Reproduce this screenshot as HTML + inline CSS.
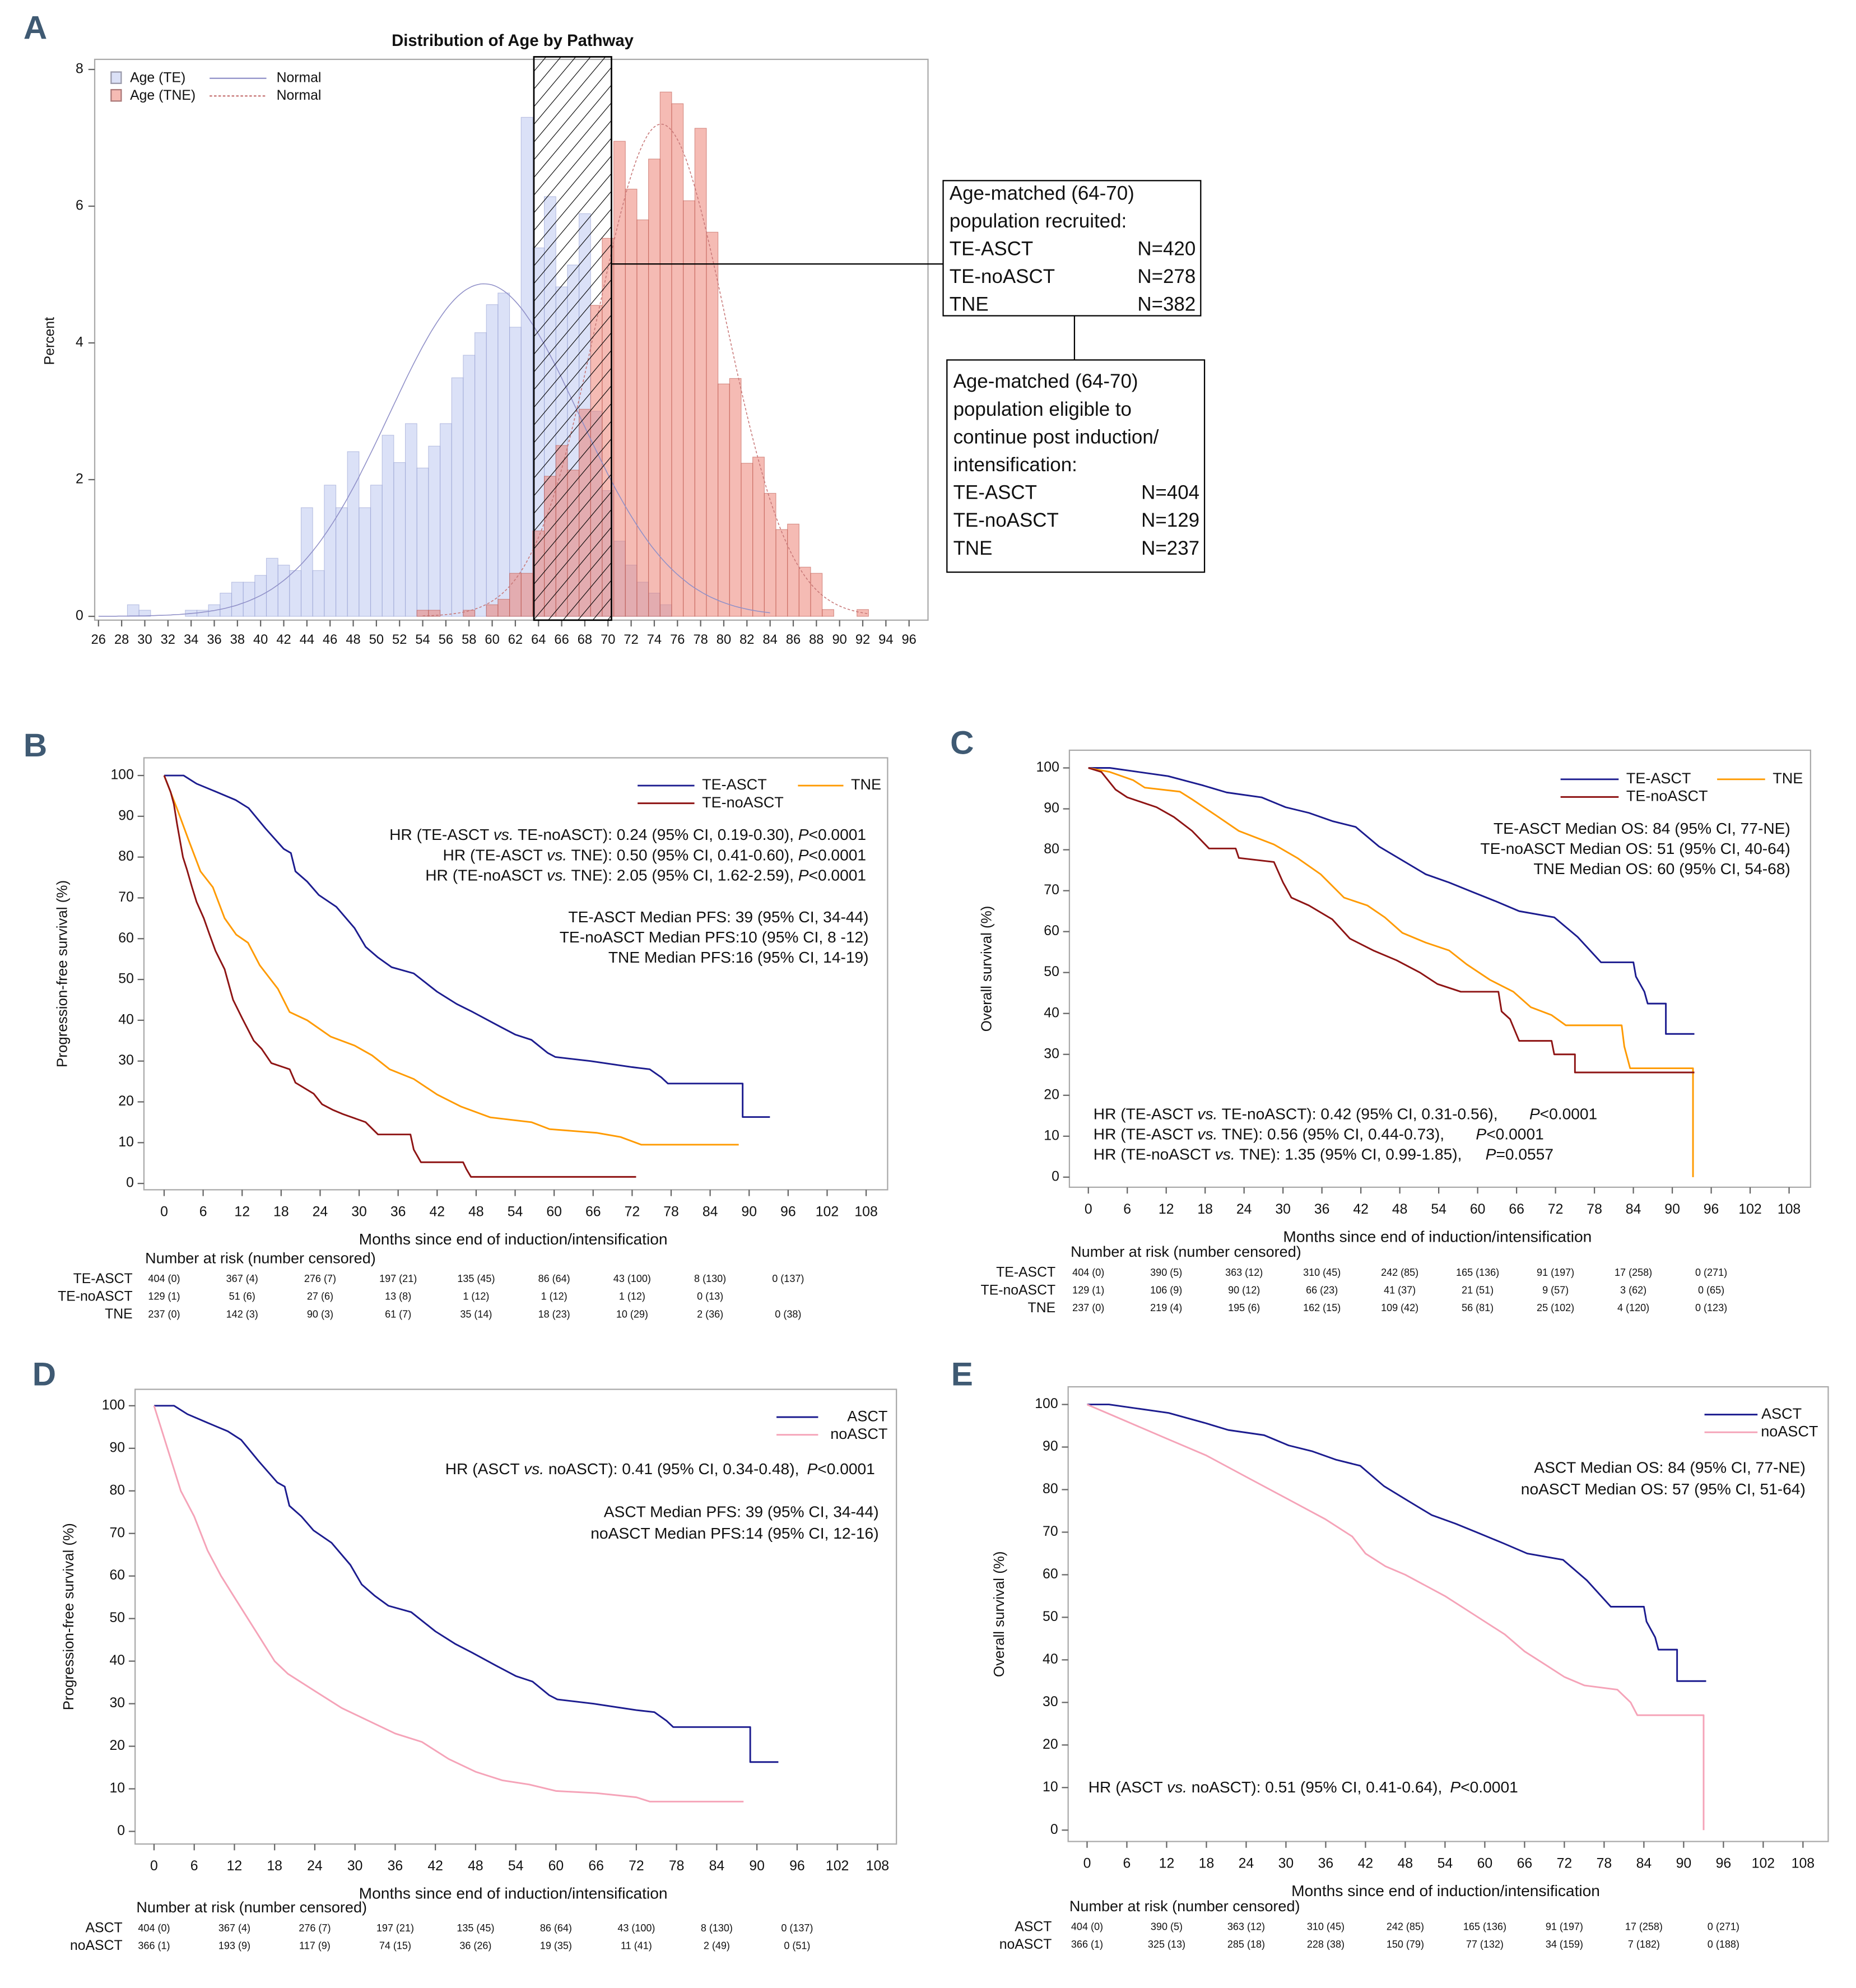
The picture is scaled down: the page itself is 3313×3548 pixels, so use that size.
<!DOCTYPE html>
<html><head><meta charset="utf-8"><title>Age distribution and survival by pathway</title>
<style>
html,body{margin:0;padding:0;background:#fff;}
svg{display:block;}
text{font-family:"Liberation Sans Narrow","Liberation Sans",sans-serif;fill:#111;}
.box text{font-family:"Liberation Sans",sans-serif;}
</style></head>
<body>
<svg id="fig" xmlns="http://www.w3.org/2000/svg" width="3313" height="3548" viewBox="0 0 1470 1574" preserveAspectRatio="none"></svg>
<script>
// ---------- Panel A data ----------
const ageTE = [29,30,34,35,36,37,38,39,40,41,42,43,44,45,46,47,48,49,50,51,52,53,54,55,56,57,58,59,60,61,62,63,64,65,66,67,68,69,70,71,72,73,74,75];
const pctTE = [0.17,0.09,0.09,0.09,0.17,0.34,0.5,0.5,0.6,0.85,0.75,0.67,1.59,0.67,1.92,1.59,2.41,1.59,1.92,2.65,2.25,2.82,2.17,2.49,2.82,3.49,3.82,4.15,4.56,4.73,4.23,7.3,5.39,6.14,4.82,5.14,5.89,3.0,1.84,1.1,0.75,0.5,0.34,0.17];
const ageTNE = [54,55,58,60,61,62,63,64,65,66,67,68,69,70,71,72,73,74,75,76,77,78,79,80,81,82,83,84,85,86,87,88,89,92];
const pctTNE = [0.09,0.09,0.09,0.17,0.25,0.63,0.63,1.25,2.05,2.5,2.14,3.03,4.55,5.53,6.95,6.25,5.8,6.69,7.67,7.5,6.08,7.14,5.62,3.4,3.48,2.24,2.33,1.8,1.27,1.35,0.72,0.63,0.1,0.1];
const normalTE = [59.3, 8.2, 26, 84];   // mean, sd, from, to
const normalTNE = [74.6, 5.54, 54, 92.5];
const ageTicks = [26,28,30,32,34,36,38,40,42,44,46,48,50,52,54,56,58,60,62,64,66,68,70,72,74,76,78,80,82,84,86,88,90,92,94,96];
const pctTicks = [0,2,4,6,8];

// ---------- KM data ----------
const pfsTeAsctT = [0,3,5,8,11,13,15.6,18.4,19.5,20.2,22,23.8,26.5,29.3,31,32.9,35,38.4,42,45,47.5,51,54,56.5,59,60.2,65.6,72,74.7,76.5,77.5,89,89,93.2];
const pfsTeAsctS = [100,100,98,96,94,92,87,82,81,76.5,74,70.7,67.8,62.6,58,55.4,53,51.5,47,44,42,39,36.5,35.2,32,31,30,28.5,28,26,24.5,24.5,16.3,16.3];
const pfsTeNoT = [0,1,1.5,2,2.9,3.5,4.3,5,6.1,7,7.9,9.3,10.6,12,13.8,15,16.5,19.3,20.2,23,24.3,26,27.5,31,32.9,37.9,38.4,39.5,46,46.5,47.2,72.6];
const pfsTeNoS = [100,96,93,88,80,77,72.6,69,65,61,57,52.5,45,40.5,35,33,29.5,28,24.7,22,19.4,18,17,15,12,12,8.3,5.2,5.2,3.5,1.6,1.6];
const pfsTneT = [0,2,3.8,5.6,7.5,9.3,11.1,12.9,14.7,17.5,19.3,22,25.6,29.3,32,34.7,38.4,42,45.6,50.2,56.5,59.3,66.5,70.2,73.4,88.4];
const pfsTneS = [100,91.8,84,76.5,72.6,65,61,59,53.5,47.7,42,40,36,33.8,31.4,28,25.6,21.8,18.9,16.2,15,13.3,12.4,11.4,9.5,9.5];
const osTeAsctT = [0,3.3,12.3,17.7,21.3,26.7,30.4,34,37.6,41.2,44.8,48.4,52,55.6,59.2,62.8,66.4,71.8,75.4,79,84,84.4,85.7,86.2,89,89,93.4];
const osTeAsctS = [100,100,98,95.7,94,92.8,90.4,89,87,85.6,80.8,77.4,74,72,69.7,67.4,65,63.5,58.7,52.5,52.5,49,45.3,42.4,42.4,35,35];
const osTeNoT = [0,2,4.2,6,10.5,13.2,16,18.6,22.7,23.2,28.6,30,31.3,34,37.6,40.3,43.9,47.5,51.1,53.8,57.4,63.2,63.7,65,66.4,71.4,71.8,75,75,93.4];
const osTeNoS = [100,99,94.7,92.8,90.4,88,84.6,80.3,80.3,78,77,72,68.3,66.4,63,58.3,55.4,53,50,47.2,45.3,45.3,40.5,38.6,33.3,33.3,30,30,25.6,25.6];
const osTneT = [0,3.3,6.9,8.7,14.1,16,19.6,23.2,28.6,32.2,35.8,39.4,43,45.7,48.4,52,55.6,58.3,61.9,65.5,68.2,71.4,73.6,82.2,82.6,83.5,93.2,93.2];
const osTneS = [100,99,97,95.2,94.2,92.3,88.5,84.6,81.3,78,74,68.3,66.4,63.5,59.7,57.3,55.4,52,48.2,45.3,41.5,39.6,37.1,37.1,31.9,26.6,26.6,0];
const pfsNoT = [0,1,2,3,4,6,8,10,12,14,16,18,20,24,28,32,36,40,44,48,52,56,60,66,72,74,88];
const pfsNoS = [100,95,90,85,80,74,66,60,55,50,45,40,37,33,29,26,23,21,17,14,12,11,9.5,9,8,7,7];
const osNoT = [0,6,12,18,24,30,36,40,42,45,48,54,57,60,63,66,69,72,75,80,82,83,93,93];
const osNoS = [100,96,92,88,83,78,73,69,65,62,60,55,52,49,46,42,39,36,34,33,30,27,27,0];
const monthTicks = [0,6,12,18,24,30,36,42,48,54,60,66,72,78,84,90,96,102,108];
const survTicks = [0,10,20,30,40,50,60,70,80,90,100];
const riskB1 = ["404 (0)","367 (4)","276 (7)","197 (21)","135 (45)","86 (64)","43 (100)","8 (130)","0 (137)"];
const riskB2 = ["129 (1)","51 (6)","27 (6)","13 (8)","1 (12)","1 (12)","1 (12)","0 (13)"];
const riskB3 = ["237 (0)","142 (3)","90 (3)","61 (7)","35 (14)","18 (23)","10 (29)","2 (36)","0 (38)"];
const riskC1 = ["404 (0)","390 (5)","363 (12)","310 (45)","242 (85)","165 (136)","91 (197)","17 (258)","0 (271)"];
const riskC2 = ["129 (1)","106 (9)","90 (12)","66 (23)","41 (37)","21 (51)","9 (57)","3 (62)","0 (65)"];
const riskC3 = ["237 (0)","219 (4)","195 (6)","162 (15)","109 (42)","56 (81)","25 (102)","4 (120)","0 (123)"];
const riskD1 = ["404 (0)","367 (4)","276 (7)","197 (21)","135 (45)","86 (64)","43 (100)","8 (130)","0 (137)"];
const riskD2 = ["366 (1)","193 (9)","117 (9)","74 (15)","36 (26)","19 (35)","11 (41)","2 (49)","0 (51)"];
const riskE1 = ["404 (0)","390 (5)","363 (12)","310 (45)","242 (85)","165 (136)","91 (197)","17 (258)","0 (271)"];
const riskE2 = ["366 (1)","325 (13)","285 (18)","228 (38)","150 (79)","77 (132)","34 (159)","7 (182)","0 (188)"];

const NS='http://www.w3.org/2000/svg';
const svg=document.getElementById('fig');
function mk(tag,attrs,parent){const e=document.createElementNS(NS,tag);for(const k in attrs)e.setAttribute(k,attrs[k]);(parent||svg).appendChild(e);return e;}
function txt(s,x,y,size,anchor,parent,extra){const e=mk('text',Object.assign({x:x,y:y,'font-size':size,'text-anchor':anchor||'start','dominant-baseline':'middle'},extra||{}),parent);e.textContent=s;return e;}

const defs=mk('defs',{});
const pat=mk('pattern',{id:'hatch',width:9,height:9,patternUnits:'userSpaceOnUse',patternTransform:'rotate(40)'},defs);
mk('line',{x1:0,y1:0,x2:0,y2:9,stroke:'#000','stroke-width':1},pat);

// ================= PANEL A =================
const gA=mk('g',{});


const lA=txt('A',28,24,26,'middle',gA,{'font-weight':'bold',style:'fill:#3f5a73'});


const tA=txt('Distribution of Age by Pathway',406,33,13,'middle',gA,{'font-weight':'bold'});


const ax=a=>78+(a-26)*(720-78)/70;
const ay=p=>488-p*(488-55)/8;
mk('rect',{x:75,y:47,width:660,height:444,fill:'none',stroke:'#aaa','stroke-width':1},gA);
pctTicks.forEach(t=>{mk('line',{x1:70,x2:75,y1:ay(t),y2:ay(t),stroke:'#666'},gA);const e=txt(String(t),66,ay(t),11,'end',gA);});
ageTicks.forEach(t=>{mk('line',{x1:ax(t),x2:ax(t),y1:491,y2:496,stroke:'#666'},gA);const e=txt(String(t),ax(t),507,10.5,'middle',gA);});
const yA=txt('Percent',40,270,11,'middle',gA,{transform:'rotate(-90 40 270)',style:'font-family:"Liberation Sans",sans-serif'});


ageTE.forEach((a,i)=>{const r=mk('rect',{x:ax(a-0.5),y:ay(pctTE[i]),width:ax(a+0.5)-ax(a-0.5),height:ay(0)-ay(pctTE[i]),fill:'rgba(190,200,240,0.55)',stroke:'rgba(150,160,210,0.6)','stroke-width':0.5},gA);});
ageTNE.forEach((a,i)=>{const r=mk('rect',{x:ax(a-0.5),y:ay(pctTNE[i]),width:ax(a+0.5)-ax(a-0.5),height:ay(0)-ay(pctTNE[i]),fill:'rgba(235,120,105,0.5)',stroke:'rgba(190,90,80,0.6)','stroke-width':0.5},gA);});
function normPath(p){let d='';for(let a=p[2];a<=p[3];a+=0.25){const v=100/(p[1]*Math.sqrt(2*Math.PI))*Math.exp(-0.5*((a-p[0])/p[1])**2);d+=(d?'L':'M')+ax(a).toFixed(1)+' '+ay(v).toFixed(1);}return d;}
const nTE=mk('path',{d:normPath(normalTE),fill:'none',stroke:'#9090c8','stroke-width':0.7},gA);


const nTNE=mk('path',{d:normPath(normalTNE),fill:'none',stroke:'#c87878','stroke-width':0.7,'stroke-dasharray':'2,1.5'},gA);


const hb=mk('rect',{x:ax(63.6),y:45,width:ax(70.3)-ax(63.6),height:446,fill:'url(#hatch)',stroke:'#000','stroke-width':1.2},gA);


const lgA=mk('g',{},gA);


mk('rect',{x:88,y:57,width:8,height:9,fill:'rgba(190,200,240,0.55)',stroke:'#99a'},lgA);
txt('Age (TE)',103,62,11,'start',lgA);
mk('rect',{x:88,y:71,width:8,height:9,fill:'rgba(235,120,105,0.5)',stroke:'#a77'},lgA);
txt('Age (TNE)',103,76,11,'start',lgA);
mk('line',{x1:166,x2:211,y1:62,y2:62,stroke:'#9090c8'},lgA);
txt('Normal',219,62,11,'start',lgA);
mk('line',{x1:166,x2:211,y1:76,y2:76,stroke:'#c87878','stroke-dasharray':'2,1.5'},lgA);
txt('Normal',219,76,11,'start',lgA);
mk('line',{x1:484,x2:747,y1:209,y2:209,stroke:'#000','stroke-width':1},gA);
mk('line',{x1:851,x2:851,y1:250,y2:285,stroke:'#000','stroke-width':1},gA);
const b1=mk('g',{class:'box'},gA);


mk('rect',{x:747,y:143,width:204,height:107,fill:'#fff',stroke:'#000','stroke-width':1},b1);
[['Age-matched (64-70)',''],['population recruited:',''],['TE-ASCT','N=420'],['TE-noASCT','N=278'],['TNE','N=382']].forEach((r,i)=>{txt(r[0],752,154+i*22,15.5,'start',b1);if(r[1])txt(r[1],947,154+i*22,15.5,'end',b1);});
const b2=mk('g',{class:'box'},gA);


mk('rect',{x:750,y:285,width:204,height:168,fill:'#fff',stroke:'#000','stroke-width':1},b2);
[['Age-matched (64-70)',''],['population eligible to',''],['continue post induction/',''],['intensification:',''],['TE-ASCT','N=404'],['TE-noASCT','N=129'],['TNE','N=237']].forEach((r,i)=>{txt(r[0],755,303+i*22,15.5,'start',b2);if(r[1])txt(r[1],950,303+i*22,15.5,'end',b2);});

// ================= KM panels =================
function kmPanel(cfg){
  const g=mk('g',{});
  
  
  const L=txt(cfg.letter,cfg.lx,cfg.ly,26,'middle',g,{'font-weight':'bold',style:'fill:#3f5a73'});
  
  
  const X=m=>cfg.x0+m*(cfg.x108-cfg.x0)/108;
  const Y=s=>cfg.y0-s*(cfg.y0-cfg.y100)/100;
  mk('rect',{x:cfg.fx,y:cfg.fy,width:cfg.fw,height:cfg.fh,fill:'none',stroke:'#aaa','stroke-width':1},g);
  survTicks.forEach(t=>{mk('line',{x1:cfg.fx-5,x2:cfg.fx,y1:Y(t),y2:Y(t),stroke:'#666'},g);const e=txt(String(t),cfg.fx-8,Y(t),11,'end',g);});
  monthTicks.forEach(t=>{mk('line',{x1:X(t),x2:X(t),y1:cfg.fy+cfg.fh,y2:cfg.fy+cfg.fh+5,stroke:'#666'},g);const e=txt(String(t),X(t),cfg.fy+cfg.fh+18,11,'middle',g);});
  const xt=txt('Months since end of induction/intensification',cfg.fx+cfg.fw/2-2,cfg.fy+cfg.fh+40,12.5,'middle',g);
  
  
  const yx=cfg.ylx, yy=cfg.fy+cfg.fh/2;
  const yt=txt(cfg.ytitle,yx,yy,11.5,'middle',g,{transform:'rotate(-90 '+yx+' '+yy+')',style:'font-family:"Liberation Sans",sans-serif'});
  
  
  cfg.series.forEach(s=>{
    let d='M'+X(s.t[0]).toFixed(1)+' '+Y(s.s[0]).toFixed(1);
    for(let i=1;i<s.t.length;i++){d+='L'+X(s.t[i]).toFixed(1)+' '+Y(s.s[i]).toFixed(1);}
    const p=mk('path',{d:d,fill:'none',stroke:s.color,'stroke-width':1.3,'stroke-linejoin':'round'},g);
    
    
  });
  cfg.legend.forEach(l=>{
    const lg=mk('g',{},g);
    
    
    mk('line',{x1:l.x1,x2:l.x2,y1:l.y,y2:l.y,stroke:l.color,'stroke-width':1.3},lg);
    txt(l.label,l.tx,l.y,12,l.anchor||'start',lg);
  });
  cfg.notes.forEach(n=>{
    const t=mk('text',{x:n.x,y:n.y,'font-size':12.5,'text-anchor':n.anchor,'dominant-baseline':'middle'},g);
    
    
    n.parts.forEach(pp=>{const ts=mk('tspan',pp[1]?{'font-style':'italic'}:{},t);ts.textContent=pp[0];});
  });
  const rh=txt('Number at risk (number censored)',cfg.fx+1,cfg.riskY0-16,12,'start',g);
  
  
  cfg.risk.forEach((r,ri)=>{
    const y=cfg.riskY0+ri*14;
    const lb=txt(r.label,cfg.rlx,y,11,'end',g);
    
    
    r.vals.forEach((v,i)=>{const e=txt(v,X(i*12),y,8,'middle',g);});
  });
}
const NAVY='#1c1c8f', ORANGE='#ff9a00', DRED='#8e1414', PINK='#f5a3b8';
function hr(a,b,c,d){return {parts:[['HR ('+a+' ',0],['vs.',1],[' '+b+'): '+c,0],['P',1],[d,0]]};}
kmPanel({name:'panel-b-pfs',letter:'B',lx:28,ly:592,fx:114,fy:600,fw:589,fh:342,x0:130,x108:686,y0:937,y100:614,ylx:50,
  ytitle:'Progression-free survival (%)',riskY0:1013,rlx:105,
  series:[{key:'te-asct',t:pfsTeAsctT,s:pfsTeAsctS,color:NAVY},{key:'tne',t:pfsTneT,s:pfsTneS,color:ORANGE},{key:'te-noasct',t:pfsTeNoT,s:pfsTeNoS,color:DRED}],
  legend:[{x1:505,x2:550,y:622,tx:556,label:'TE-ASCT',color:NAVY},{x1:632,x2:668,y:622,tx:674,label:'TNE',color:ORANGE},{x1:505,x2:550,y:636,tx:556,label:'TE-noASCT',color:DRED}],
  notes:[Object.assign(hr('TE-ASCT','TE-noASCT','0.24 (95% CI, 0.19-0.30), ','<0.0001'),{x:686,y:662,anchor:'end'}),
         Object.assign(hr('TE-ASCT','TNE','0.50 (95% CI, 0.41-0.60), ','<0.0001'),{x:686,y:678,anchor:'end'}),
         Object.assign(hr('TE-noASCT','TNE','2.05 (95% CI, 1.62-2.59), ','<0.0001'),{x:686,y:694,anchor:'end'}),
         {x:688,y:727,anchor:'end',parts:[['TE-ASCT Median PFS: 39 (95% CI, 34-44)',0]]},
         {x:688,y:743,anchor:'end',parts:[['TE-noASCT Median PFS:10 (95% CI, 8 -12)',0]]},
         {x:688,y:759,anchor:'end',parts:[['TNE Median PFS:16 (95% CI, 14-19)',0]]}],
  risk:[{label:'TE-ASCT',vals:riskB1},{label:'TE-noASCT',vals:riskB2},{label:'TNE',vals:riskB3}]});
kmPanel({name:'panel-c-os',letter:'C',lx:762,ly:590,fx:847,fy:594,fw:587,fh:346,x0:862,x108:1417,y0:932,y100:608,ylx:782,
  ytitle:'Overall survival (%)',riskY0:1008,rlx:836,
  series:[{key:'te-asct',t:osTeAsctT,s:osTeAsctS,color:NAVY},{key:'tne',t:osTneT,s:osTneS,color:ORANGE},{key:'te-noasct',t:osTeNoT,s:osTeNoS,color:DRED}],
  legend:[{x1:1236,x2:1282,y:617,tx:1288,label:'TE-ASCT',color:NAVY},{x1:1360,x2:1398,y:617,tx:1404,label:'TNE',color:ORANGE},{x1:1236,x2:1282,y:631,tx:1288,label:'TE-noASCT',color:DRED}],
  notes:[{x:1418,y:657,anchor:'end',parts:[['TE-ASCT Median OS: 84 (95% CI, 77-NE)',0]]},
         {x:1418,y:673,anchor:'end',parts:[['TE-noASCT Median OS: 51 (95% CI, 40-64)',0]]},
         {x:1418,y:689,anchor:'end',parts:[['TNE Median OS: 60 (95% CI, 54-68)',0]]},
         Object.assign(hr('TE-ASCT','TE-noASCT','0.42 (95% CI, 0.31-0.56),\u2003\u2003','<0.0001'),{x:866,y:883,anchor:'start'}),
         Object.assign(hr('TE-ASCT','TNE','0.56 (95% CI, 0.44-0.73),\u2003\u2003','<0.0001'),{x:866,y:899,anchor:'start'}),
         Object.assign(hr('TE-noASCT','TNE','1.35 (95% CI, 0.99-1.85),\u2003\u2002','=0.0557'),{x:866,y:915,anchor:'start'})],
  risk:[{label:'TE-ASCT',vals:riskC1},{label:'TE-noASCT',vals:riskC2},{label:'TNE',vals:riskC3}]});
kmPanel({name:'panel-d-pfs',letter:'D',lx:35,ly:1090,fx:107,fy:1100,fw:603,fh:360,x0:122,x108:695,y0:1450,y100:1113,ylx:55,
  ytitle:'Progression-free survival (%)',riskY0:1527,rlx:97,
  series:[{key:'asct',t:pfsTeAsctT,s:pfsTeAsctS,color:NAVY},{key:'noasct',t:pfsNoT,s:pfsNoS,color:PINK}],
  legend:[{x1:615,x2:648,y:1122,tx:703,label:'ASCT',color:NAVY,anchor:'end'},{x1:615,x2:648,y:1136,tx:703,label:'noASCT',color:PINK,anchor:'end'}],
  notes:[Object.assign(hr('ASCT','noASCT','0.41 (95% CI, 0.34-0.48),\u2002','<0.0001'),{x:693,y:1164,anchor:'end'}),
         {x:696,y:1198,anchor:'end',parts:[['ASCT Median PFS: 39 (95% CI, 34-44)',0]]},
         {x:696,y:1215,anchor:'end',parts:[['noASCT Median PFS:14 (95% CI, 12-16)',0]]}],
  risk:[{label:'ASCT',vals:riskD1},{label:'noASCT',vals:riskD2}]});
kmPanel({name:'panel-e-os',letter:'E',lx:762,ly:1090,fx:846,fy:1098,fw:602,fh:360,x0:861,x108:1428,y0:1449,y100:1112,ylx:792,
  ytitle:'Overall survival (%)',riskY0:1526,rlx:833,
  series:[{key:'asct',t:osTeAsctT,s:osTeAsctS,color:NAVY},{key:'noasct',t:osNoT,s:osNoS,color:PINK}],
  legend:[{x1:1350,x2:1392,y:1120,tx:1427,label:'ASCT',color:NAVY,anchor:'end'},{x1:1350,x2:1392,y:1134,tx:1440,label:'noASCT',color:PINK,anchor:'end'}],
  notes:[{x:1430,y:1163,anchor:'end',parts:[['ASCT Median OS: 84 (95% CI, 77-NE)',0]]},
         {x:1430,y:1180,anchor:'end',parts:[['noASCT Median OS: 57 (95% CI, 51-64)',0]]},
         Object.assign(hr('ASCT','noASCT','0.51 (95% CI, 0.41-0.64),\u2002','<0.0001'),{x:862,y:1416,anchor:'start'})],
  risk:[{label:'ASCT',vals:riskE1},{label:'noASCT',vals:riskE2}]});
</script>
</body></html>
